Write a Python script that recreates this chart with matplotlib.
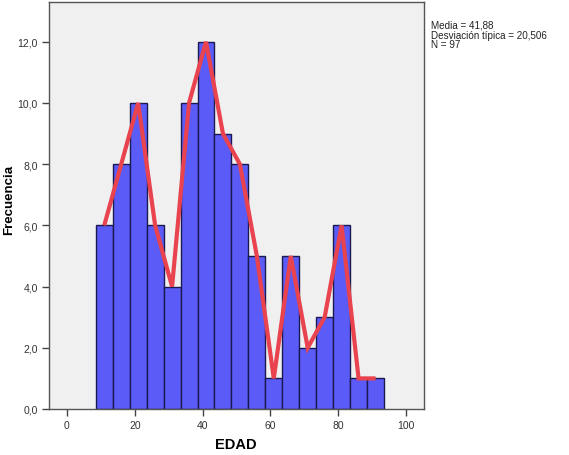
import matplotlib
matplotlib.use("Agg")
import matplotlib.pyplot as plt
import numpy as np

plt.rcParams["font.family"] = ["Liberation Sans", "DejaVu Sans"]

# Data
bin_edges = [8.5, 13.5, 18.5, 23.5, 28.5, 33.5, 38.5, 43.5, 48.5, 53.5, 58.5,
             63.5, 68.5, 73.5, 78.5, 83.5, 88.5, 93.5]
counts = [6, 8, 10, 6, 4, 10, 12, 9, 8, 5, 1, 5, 2, 3, 6, 1, 1]
line_x = [11, 21, 26, 31, 36, 41, 46, 51, 56, 61, 66, 71, 76, 81, 86, 91]
line_y = [6, 10, 6, 4, 10, 12, 9, 8, 5, 1, 5, 2, 3, 6, 1, 1]
xticks = [0, 20, 40, 60, 80, 100]
yticks = [0, 2, 4, 6, 8, 10, 12]
ytick_labels = ["0,0", "2,0", "4,0", "6,0", "8,0", "10,0", "12,0"]
stats_text = "Media = 41,88\nDesviación típica = 20,506\nN = 97"

W, H = 569, 456
fig = plt.figure(figsize=(W / 100, H / 100), dpi=100)
fig.patch.set_facecolor("white")
ax = fig.add_axes([49 / W, 1 - 410 / H, (424 - 49) / W, (410 - 3) / H])
ax.set_facecolor("#F0F0F0")

lefts = np.array(bin_edges[:-1])
widths = np.diff(bin_edges)
ax.bar(lefts, counts, width=widths, align="edge", color="#5B5BF7",
       edgecolor="#1A1A50", linewidth=1.0, zorder=2)
ax.plot(line_x, line_y, color="#E8434E", linewidth=3.0, zorder=3,
        solid_joinstyle="miter", solid_capstyle="butt")

ax.set_xlim(-5.3, 105.3)
ax.set_ylim(0, 13.3)
ax.set_xticks(xticks)
ax.set_xticklabels([str(t) for t in xticks])
ax.set_yticks(yticks)
ax.set_yticklabels(ytick_labels)
ax.tick_params(axis="both", direction="out", length=5, width=1,
               colors="#444444", labelsize=7.5, labelcolor="#333333", pad=3)
for s in ax.spines.values():
    s.set_color("#555555")
    s.set_linewidth(1.0)

fig.text(236 / W, 1 - 445 / H, "EDAD", fontsize=10.5, fontweight="bold",
         ha="center", va="center")
fig.text(9 / W, 1 - 200 / H, "Frecuencia", fontsize=9.5, fontweight="bold",
         ha="center", va="center", rotation=90)

fig.text(431 / W, 1 - 21 / H, stats_text, fontsize=7.1, va="top",
         ha="left", linespacing=0.95, color="#222222")

fig.savefig("out.png", dpi=100)
